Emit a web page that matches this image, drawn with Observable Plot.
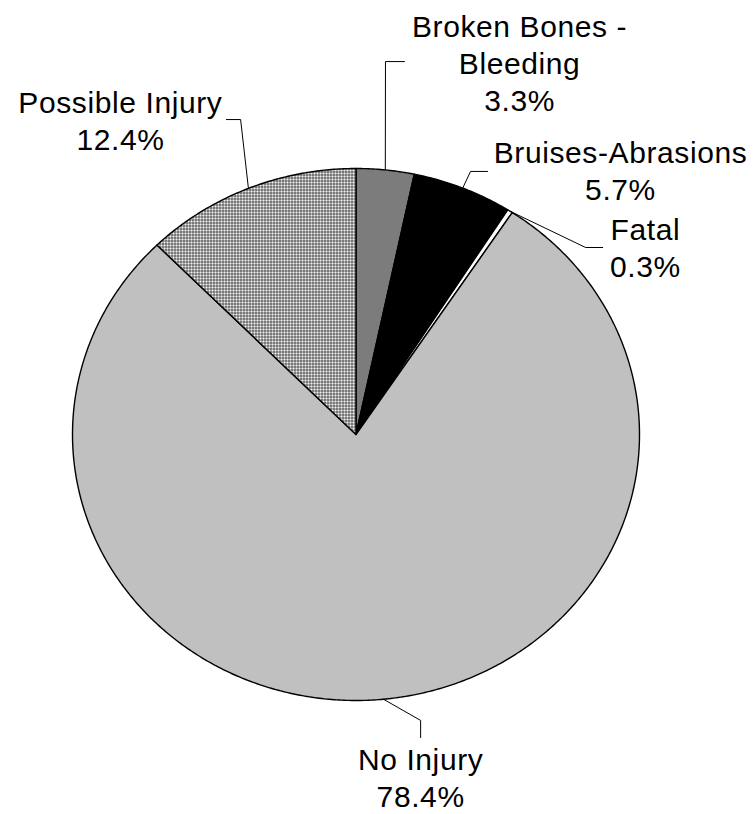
<!DOCTYPE html>
<html>
<head>
<meta charset="utf-8">
<script src="https://cdn.jsdelivr.net/npm/d3@7"></script>
<script src="https://cdn.jsdelivr.net/npm/@observablehq/plot@0.6"></script>
<style>
  html, body { margin: 0; padding: 0; background: #fff; }
  #chart { width: 755px; height: 814px; }
</style>
</head>
<body>
<div id="chart"></div>
<script>
// ---- data (clockwise from 12 o'clock) ----
const categories = ["Broken Bones -\nBleeding", "Bruises-Abrasions", "Fatal", "No Injury", "Possible Injury"];
const shares = [3.3, 5.7, 0.3, 78.4, 12.4];
const pctLabels = ["3.3%", "5.7%", "0.3%", "78.4%", "12.4%"];

// ---- styling ----
const fills = ["url(#patBroken)", "#000000", "#ffffff", "#c0c0c0", "url(#patPossible)"];

// ---- label layout (in the pie's unit coordinates) ----
const labelPos = [[0.577, 1.400], [0.933, 0.994], [1.021, 0.707], [0.228, -1.285], [-0.831, 1.182]];
const elbows = [
  [[0.104, 1.402], [0.171, 1.402]],
  [[0.404, 0.989], [0.464, 0.989]],
  [[0.810, 0.703], [0.870, 0.703]],
  [[0.228, -1.075], [0.228, -1.139]],
  [[-0.407, 1.184], [-0.457, 1.184]]
];

const total = d3.sum(shares);
let cum = 0;
const slices = categories.map((name, i) => {
  const a0 = cum / total * 2 * Math.PI;
  cum += shares[i];
  const a1 = cum / total * 2 * Math.PI;
  const pts = [{x: 0, y: 0}];
  const n = Math.max(2, Math.ceil((a1 - a0) / (Math.PI / 360)));
  for (let k = 0; k <= n; k++) {
    const a = a0 + (a1 - a0) * k / n;
    pts.push({x: Math.sin(a), y: Math.cos(a)});
  }
  const am = (a0 + a1) / 2;
  return {name, pts, fill: fills[i], mid: {x: Math.sin(am), y: Math.cos(am)}};
});

const leaders = slices.map((s, i) => [s.mid, ...elbows[i].map(([x, y]) => ({x, y}))]);
const labels = slices.map((s, i) => ({
  x: labelPos[i][0], y: labelPos[i][1],
  text: s.name + "\n" + pctLabels[i]
}));

const svg = Plot.plot({
  width: 755,
  height: 814,
  margin: 0,
  x: {domain: [-1, 1], range: [72, 639], axis: null},
  y: {domain: [-1, 1], range: [700, 168], axis: null},
  style: {fontFamily: "'Liberation Sans', Arial, sans-serif", background: "#fff", color: "#000"},
  marks: [
    ...slices.map(s => Plot.line(s.pts, {
      x: "x", y: "y", curve: "linear-closed",
      fill: s.fill, stroke: "#000", strokeWidth: 1.4, strokeLinejoin: "round"
    })),
    ...leaders.map(l => Plot.line(l, {x: "x", y: "y", stroke: "#000", strokeWidth: 1})),
    Plot.text(labels, {
      x: "x", y: "y", text: "text",
      fontSize: 30, lineHeight: 1.233, fill: "#000",
      textAnchor: "middle", lineAnchor: "middle"
    })
  ]
});

// patterns
const ns = "http://www.w3.org/2000/svg";
const defs = document.createElementNS(ns, "defs");
defs.innerHTML = `
  <pattern id="patPossible" width="3" height="3" patternUnits="userSpaceOnUse">
    <rect width="3" height="3" fill="#f4f4f4"/>
    <rect width="3" height="1" fill="#6e6e6e"/>
    <rect width="1" height="3" fill="#6e6e6e"/>
    <rect width="1" height="1" fill="#1a1a1a"/>
  </pattern>
  <pattern id="patBroken" width="2" height="2" patternUnits="userSpaceOnUse">
    <rect width="2" height="2" fill="#d8d8d8"/>
    <rect width="1" height="1" fill="#202020"/>
    <rect x="1" y="1" width="1" height="1" fill="#202020"/>
  </pattern>`;
svg.insertBefore(defs, svg.firstChild);
d3.select(svg).selectAll("text").attr("letter-spacing", "0.6px");

document.getElementById("chart").appendChild(svg);
</script>
</body>
</html>
